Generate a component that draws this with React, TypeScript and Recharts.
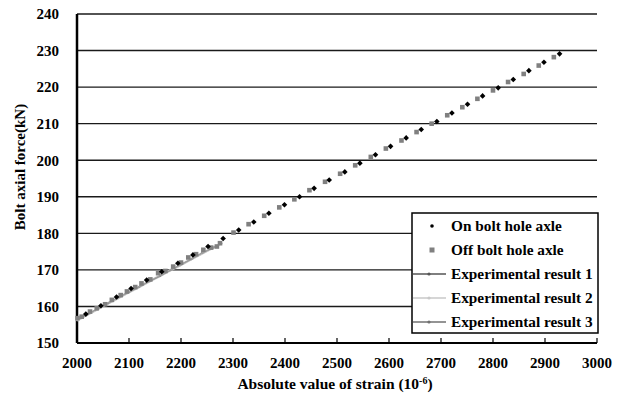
import { ComposedChart, Scatter, XAxis, YAxis, CartesianGrid, Legend } from 'recharts';

const FONT = "'Times New Roman', 'Liberation Serif', serif";

const xTicks = [2000, 2100, 2200, 2300, 2400, 2500, 2600, 2700, 2800, 2900, 3000];
const yTicks = [150, 160, 170, 180, 190, 200, 210, 220, 230, 240];

// On bolt hole axle (black diamonds)
const onX = [2017, 2046, 2076, 2104, 2134, 2163, 2194, 2223, 2252, 2281, 2311, 2340, 2369, 2399, 2428, 2456, 2485, 2515, 2544, 2574, 2603, 2633, 2662, 2692, 2721, 2751, 2780, 2810, 2839, 2869, 2898, 2928];
const onY = [157.9, 160.2, 162.6, 164.9, 167.2, 169.5, 171.8, 174.1, 176.4, 178.6, 180.9, 183.1, 185.5, 187.8, 190.0, 192.3, 194.6, 196.8, 199.2, 201.5, 203.8, 206.1, 208.4, 210.6, 212.9, 215.3, 217.6, 219.8, 222.1, 224.5, 226.8, 229.1];

// Off bolt hole axle (grey squares)
const offX = [2001, 2009, 2025, 2038, 2054, 2067, 2084, 2096, 2112, 2124, 2141, 2156, 2170, 2185, 2200, 2214, 2229, 2243, 2258, 2269, 2275, 2301, 2330, 2360, 2389, 2418, 2447, 2477, 2506, 2535, 2565, 2594, 2624, 2653, 2682, 2712, 2741, 2770, 2800, 2829, 2859, 2888, 2917];
const offY = [156.8, 157.2, 158.6, 159.5, 160.6, 161.8, 163.1, 164.1, 165.3, 166.3, 167.4, 169.1, 169.7, 170.9, 172.0, 173.4, 174.3, 175.5, 176.1, 176.4, 177.3, 180.2, 182.5, 184.8, 187.1, 189.3, 191.8, 194.1, 196.3, 198.6, 200.9, 203.2, 205.4, 207.7, 210.0, 212.3, 214.5, 216.8, 219.1, 221.4, 223.6, 225.9, 228.2];

// Experimental results
const exp1X = [2000, 2020, 2040, 2060, 2080, 2100, 2120, 2140, 2160, 2180, 2200, 2220, 2240, 2260, 2275];
const exp1Y = [156.4, 157.8, 159.4, 160.9, 162.5, 163.9, 165.4, 166.9, 168.3, 169.9, 171.5, 172.9, 174.6, 175.9, 177.0];
const exp2X = [2000, 2018, 2038, 2058, 2078, 2098, 2118, 2138, 2158, 2178, 2198, 2218, 2238, 2258, 2272];
const exp2Y = [156.2, 157.6, 159.1, 160.7, 162.2, 163.8, 165.2, 166.8, 168.2, 169.8, 171.2, 172.8, 174.3, 175.8, 176.7];
const exp3X = [2000, 2022, 2042, 2062, 2082, 2102, 2122, 2142, 2162, 2182, 2202, 2222, 2242, 2262, 2278];
const exp3Y = [156.6, 158.0, 159.6, 161.1, 162.6, 164.1, 165.6, 167.1, 168.6, 170.1, 171.6, 173.1, 174.7, 176.1, 177.2];

const toPts = (xs: number[], ys: number[]) => xs.map((x, i) => ({ x, y: ys[i] }));

const Diamond = (p: any) => (
  <polygon points={`${p.cx},${p.cy - 2.8} ${p.cx + 2.8},${p.cy} ${p.cx},${p.cy + 2.8} ${p.cx - 2.8},${p.cy}`} fill="#000" />
);
const Square = (p: any) => <rect x={p.cx - 2.3} y={p.cy - 2.3} width={4.6} height={4.6} fill="#808080" />;
const Dot = (color: string) => (p: any) => <circle cx={p.cx} cy={p.cy} r={1} fill={color} />;

const legendRows = [
  { label: 'On bolt hole axle', kind: 'diamond', color: '#000' },
  { label: 'Off bolt hole axle', kind: 'square', color: '#808080' },
  { label: 'Experimental result 1', kind: 'line', color: '#555' },
  { label: 'Experimental result 2', kind: 'line', color: '#c8c8c8' },
  { label: 'Experimental result 3', kind: 'line', color: '#707070' },
];

function LegendBox() {
  return (
    <svg width={188} height={122} style={{ display: 'block' }}>
      <rect x={1} y={1} width={186} height={120} fill="#fff" stroke="#000" strokeWidth={1.5} />
      {legendRows.map((r, i) => {
        const cy = 14 + i * 24;
        return (
          <g key={r.label}>
            {r.kind === 'diamond' && <circle cx={21} cy={cy} r={1.8} fill="#000" />}
            {r.kind === 'square' && <rect x={18.5} y={cy - 2.5} width={5} height={5} fill="#808080" />}
            {r.kind === 'line' && (
              <g>
                <line x1={2} x2={35} y1={cy} y2={cy} stroke={r.color} strokeWidth={1.5} />
                <circle cx={18} cy={cy} r={1.6} fill={r.color} />
              </g>
            )}
            <text x={40} y={cy + 5} fontFamily={FONT} fontWeight="bold" fontSize={15.3} fill="#000">
              {r.label}
            </text>
          </g>
        );
      })}
    </svg>
  );
}

const XTitle = (props: any) => {
  const vb = props.viewBox || {};
  const cx = vb.x + vb.width / 2 - 2;
  return (
    <text x={cx} y={389} textAnchor="middle" fontFamily={FONT} fontWeight="bold" fontSize={15.5} fill="#000">
      Absolute value of strain (10
      <tspan dy={-5} fontSize={10}>-6</tspan>
      <tspan dy={5}>)</tspan>
    </text>
  );
};

const YTitle = () => (
  <text x={25} y={167} transform="rotate(-90, 25, 167)" textAnchor="middle" fontFamily={FONT} fontWeight="bold" fontSize={15} fill="#000">
    Bolt axial force(kN)
  </text>
);

export default function App() {
  const tick = { fontFamily: FONT, fontWeight: 'bold', fontSize: 15, fill: '#000' } as any;
  return (
    <div style={{ position: 'absolute', left: 0, top: 0, background: '#fff' }}>
      <ComposedChart width={621} height={393} margin={{ top: 14, right: 24, left: 20, bottom: 15 }}>
        <CartesianGrid horizontal vertical={false} stroke="#1a1a1a" strokeWidth={1.4} />
        <XAxis
          type="number"
          dataKey="x"
          domain={[2000, 3000]}
          ticks={xTicks}
          interval={0}
          height={35}
          tick={tick}
          tickSize={-5}
          tickMargin={19}
          tickLine={{ stroke: '#000', strokeWidth: 1.2 }}
          axisLine={{ stroke: '#000', strokeWidth: 2 }}
          label={<XTitle />}
        />
        <YAxis
          type="number"
          dataKey="y"
          domain={[150, 240]}
          ticks={yTicks}
          interval={0}
          width={57}
          tick={tick}
          tickLine={false}
          tickMargin={12}
          axisLine={{ stroke: '#000', strokeWidth: 2.5 }}
          label={<YTitle />}
        />
        <Scatter name="Experimental result 2" data={toPts(exp2X, exp2Y)} line={{ stroke: '#c0c0c0', strokeWidth: 2.5 }} shape={Dot('#c0c0c0')} isAnimationActive={false} />
        <Scatter name="Experimental result 1" data={toPts(exp1X, exp1Y)} line={{ stroke: '#8a8a8a', strokeWidth: 1 }} shape={Dot('#8a8a8a')} isAnimationActive={false} />
        <Scatter name="Experimental result 3" data={toPts(exp3X, exp3Y)} line={{ stroke: '#a0a0a0', strokeWidth: 1 }} shape={Dot('#a0a0a0')} isAnimationActive={false} />
        <Scatter name="Off bolt hole axle" data={toPts(offX, offY)} shape={Square} isAnimationActive={false} />
        <Scatter name="On bolt hole axle" data={toPts(onX, onY)} shape={Diamond} isAnimationActive={false} />
        <Legend
          layout="vertical"
          align="center"
          verticalAlign="middle"
          content={() => <LegendBox />}
          wrapperStyle={{ position: 'absolute', left: 411, top: 212, width: 188, height: 122 }}
        />
      </ComposedChart>
    </div>
  );
}
